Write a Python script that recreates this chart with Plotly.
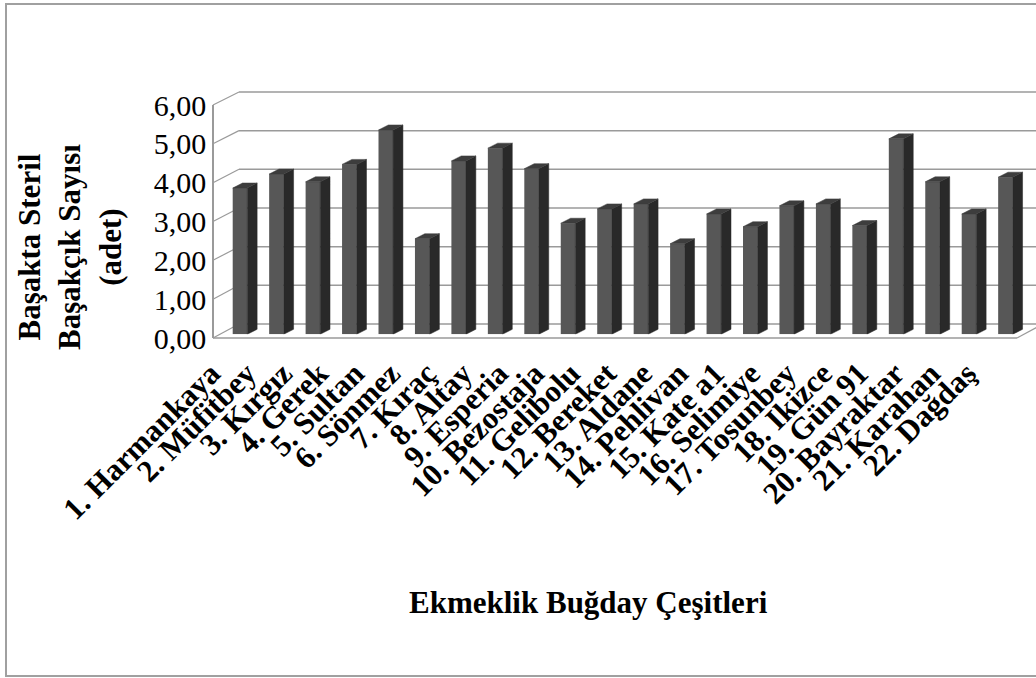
import plotly.graph_objects as go

categories = ["1. Harmankaya", "2. Müfitbey", "3. Kırgız", "4. Gerek", "5. Sultan",
              "6. Sönmez", "7. Kıraç", "8. Altay", "9. Esperia", "10. Bezostaja",
              "11. Gelibolu", "12. Bereket", "13. Aldane", "14. Pehlivan", "15. Kate a1",
              "16. Selimiye", "17. Tosunbey", "18. Ikizce", "19. Gün 91", "20. Bayraktar",
              "21. Karahan", "22. Dağdaş"]
values = [3.78, 4.14, 3.94, 4.39, 5.28, 2.47, 4.48, 4.81, 4.28, 2.87, 3.24,
          3.37, 2.34, 3.11, 2.78, 3.32, 3.37, 2.81, 5.05, 3.94, 3.11, 4.06]
y_ticks = [0, 1, 2, 3, 4, 5, 6]
y_title = "Başakta Steril<br>Başakçık Sayısı<br>(adet)"
x_title = "Ekmeklik Buğday Çeşitleri"

W, H = 1036, 678
FONT = "Liberation Serif, Times New Roman, serif"

def px(x):
    return x / W

def py(y):
    return 1 - y / H

# geometry (pixels)
slot = 36.45            # bar spacing
lab_slot = 36.0         # label spacing
bar_c0 = 240.0          # centre of first bar front face
lab_c0 = 211.0          # anchor of first category label
front_axis_x = 213.0
front_y0, front_y6 = 338.0, 105.0
bar_y0, bar_unit = 334.3, 38.7
back_x0, back_y0, back_unit = 239.0, 324.0, 38.67

n = len(categories)
idx = list(range(n))
fw, dx = 0.4, 0.27
dy = 5.0 / bar_unit

# side and top faces derived from values
side_x, side_y, top_x, top_y = [], [], [], []
for i, v in zip(idx, values):
    r = i + fw / 2
    l = i - fw / 2
    side_x += [r, r + dx, r + dx, r, r, None]
    side_y += [0, dy, v + dy, v, 0, None]
    top_x += [l, r, r + dx, l + dx, l, None]
    top_y += [v, v, v + dy, v + dy, v, None]

fig = go.Figure()
fig.add_trace(go.Bar(x=idx, y=values, width=fw, marker=dict(color="#575757", line=dict(width=0)),
                     xaxis="x2", yaxis="y2", showlegend=False, hoverinfo="skip"))
fig.add_trace(go.Scatter(x=side_x, y=side_y, mode="lines", fill="toself", fillcolor="#292929",
                         line=dict(width=0.5, color="#292929"), xaxis="x2", yaxis="y2",
                         showlegend=False, hoverinfo="skip"))
fig.add_trace(go.Scatter(x=top_x, y=top_y, mode="lines", fill="toself", fillcolor="#3d3d3d",
                         line=dict(width=0.5, color="#3d3d3d"), xaxis="x2", yaxis="y2",
                         showlegend=False, hoverinfo="skip"))
# invisible trace for label axes
fig.add_trace(go.Scatter(x=idx, y=[None] * n, mode="markers", showlegend=False, hoverinfo="skip"))

shapes = []
gc = "#9a9a9a"
for k in y_ticks:
    fy = front_y0 - (front_y0 - front_y6) * k / 6
    by = back_y0 - back_unit * k
    shapes.append(dict(type="line", xref="paper", yref="paper", x0=px(back_x0), x1=1.0,
                       y0=py(by), y1=py(by), line=dict(color=gc, width=1.5), layer="below"))
    shapes.append(dict(type="line", xref="paper", yref="paper", x0=px(front_axis_x), x1=px(back_x0),
                       y0=py(fy), y1=py(by), line=dict(color=gc, width=1.2), layer="below"))
# floor
floor_right = 1017.0
shapes.append(dict(type="line", xref="paper", yref="paper", x0=px(front_axis_x), x1=px(floor_right),
                   y0=py(front_y0), y1=py(front_y0), line=dict(color=gc, width=1.5), layer="below"))
shapes.append(dict(type="line", xref="paper", yref="paper", x0=px(floor_right), x1=px(floor_right + 26),
                   y0=py(front_y0), y1=py(back_y0), line=dict(color=gc, width=1.2), layer="below"))
# outer border
shapes.append(dict(type="rect", xref="paper", yref="paper", x0=px(6), x1=px(1045), y0=py(676), y1=py(4),
                   line=dict(color="#a0a0a0", width=2), layer="below"))

bold_ticks = ["<b>" + c + "</b>" for c in categories]

fig.update_layout(
    width=W, height=H, autosize=False,
    margin=dict(l=0, r=0, t=0, b=0),
    paper_bgcolor="white", plot_bgcolor="rgba(0,0,0,0)",
    separators=",.",
    shapes=shapes,
    xaxis=dict(domain=[px(lab_c0 - lab_slot * 0.5), px(lab_c0 + lab_slot * (n - 0.5))], range=[-0.5, n - 0.5],
               anchor="y", tickmode="array", tickvals=idx, ticktext=bold_ticks, tickangle=-45,
               showgrid=False, zeroline=False, showline=False, ticks="", ticklabelstandoff=10,
               tickfont=dict(family=FONT, size=31, color="black"), automargin=False, fixedrange=True),
    yaxis=dict(domain=[py(front_y0), py(front_y6)], range=[0, 6], anchor="free", position=px(front_axis_x),
               tickmode="array", tickvals=y_ticks, tickformat=".2f", showgrid=False, zeroline=False,
               showline=True, linecolor=gc, linewidth=1.5, ticks="",
               tickfont=dict(family=FONT, size=30, color="black"), automargin=False, fixedrange=True),
    xaxis2=dict(domain=[px(bar_c0 - slot * 0.5), px(bar_c0 + slot * (n - 0.5))], range=[-0.5, n - 0.5],
                anchor="y2", visible=False, fixedrange=True),
    yaxis2=dict(domain=[py(bar_y0), py(bar_y0 - bar_unit * 6)], range=[0, 6], anchor="x2",
                visible=False, fixedrange=True),
    annotations=[
        dict(text="<b>" + y_title + "</b>", xref="paper", yref="paper", x=px(70), y=py(247),
             textangle=-90, showarrow=False, font=dict(family=FONT, size=31, color="black"),
             xanchor="center", yanchor="middle"),
        dict(text="<b>" + x_title + "</b>", xref="paper", yref="paper", x=px(588), y=py(602),
             showarrow=False, font=dict(family=FONT, size=31, color="black"),
             xanchor="center", yanchor="middle"),
    ],
)

fig.write_html("out.html", config={"displayModeBar": False},
               post_script="document.body.style.margin='0';document.body.style.overflow='hidden';")
